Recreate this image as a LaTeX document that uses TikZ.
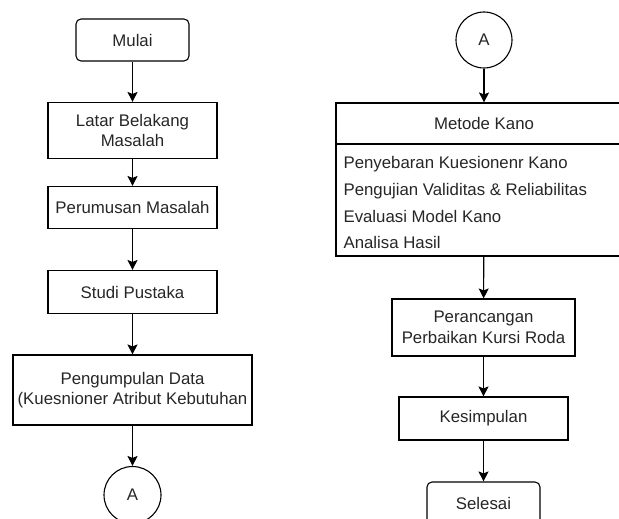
\documentclass[tikz,border=0pt]{standalone}
\usepackage{fontspec}
\setmainfont{Liberation Sans}
\usetikzlibrary{arrows.meta}

\begin{document}
\begin{tikzpicture}[x=1pt, y=-1pt,
    line width=1.1pt,
    font=\fontsize{16.8pt}{20.5pt}\selectfont,
    every node/.style={inner sep=0pt, align=center, text=black!85},
    stepbox/.style={draw, rectangle},
    terminal/.style={draw, rectangle, rounded corners=5pt, minimum width=113pt, minimum height=42pt},
    connector/.style={draw, circle, minimum size=57pt},
    flow/.style={-{Stealth[length=10pt, width=10pt, inset=2pt]}}]
    % Page frame (parts of the chart run off the edge)
    \clip (0,0) rectangle (619,519);

    % Left column
    \node[terminal] (mulai) at (132.5,40) {Mulai};
    \node[stepbox, minimum width=169pt, minimum height=56pt] (latar) at (132.5,130.5) {Latar Belakang\\Masalah};
    \node[stepbox, minimum width=169pt, minimum height=42pt] (rumus) at (132.5,207.5) {Perumusan Masalah};
    \node[stepbox, minimum width=169pt, minimum height=43pt] (studi) at (132.5,292) {Studi Pustaka};
    \node[stepbox, minimum width=239pt, minimum height=70pt] (kumpul) at (132.5,390) {Pengumpulan Data\\(Kuesnioner Atribut Kebutuhan};
    \node[connector] (offA) at (132.5,495) {A};

    \draw[flow] (mulai) -- (latar);
    \draw[flow] (latar) -- (rumus);
    \draw[flow] (rumus) -- (studi);
    \draw[flow] (studi) -- (kumpul);
    \draw[flow] (kumpul) -- (offA);

    % Right column
    \node[connector, minimum size=56pt] (onA) at (484,40) {A};

    % Metode Kano list (header + items)
    \node[stepbox, minimum width=296pt, minimum height=41pt] (kano) at (484,123.5) {Metode Kano};
    \node[stepbox, minimum width=296pt, minimum height=112pt] (kanolist) at (484,200) {};
    \node[anchor=base west] (item1) at (343,168) {Penyebaran Kuesionenr Kano};
    \node[anchor=base west] (item2) at (343,195) {Pengujian Validitas \& Reliabilitas};
    \node[anchor=base west] (item3) at (343,222) {Evaluasi Model Kano};
    \node[anchor=base west] (item4) at (343,248) {Analisa Hasil};

    \node[stepbox, minimum width=183pt, minimum height=57pt] (rancang) at (483.5,327.5) {Perancangan\\Perbaikan Kursi Roda};
    \node[stepbox, minimum width=169pt, minimum height=43pt] (simpul) at (483.5,418.5) {Kesimpulan};
    \node[terminal] (selesai) at (483.5,503) {Selesai};

    \draw[flow] (onA) -- (kano);
    \draw[flow] (kanolist) -- (rancang);
    \draw[flow] (rancang) -- (simpul);
    \draw[flow] (simpul) -- (selesai);
\end{tikzpicture}
\end{document}
